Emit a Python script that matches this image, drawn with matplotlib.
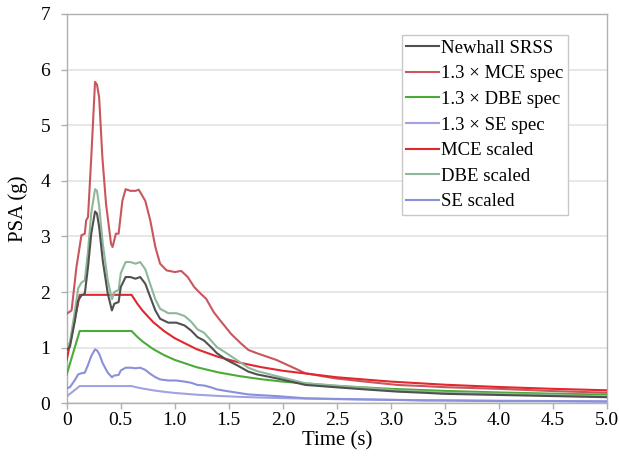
import matplotlib
matplotlib.use("Agg")
import matplotlib.pyplot as plt

# ---- data ----
t_rec = [0, 0.03, 0.076, 0.106, 0.136, 0.167, 0.197, 0.227, 0.262, 0.28, 0.30, 0.333,
         0.38, 0.418, 0.44, 0.48, 0.50, 0.545, 0.59, 0.636, 0.68, 0.727, 0.773, 0.82,
         0.864, 0.94, 1.015, 1.09, 1.15, 1.21, 1.27, 1.33, 1.39, 1.48, 1.58, 1.68,
         1.76, 1.94, 2.21, 2.48, 2.76, 3.06, 3.3, 3.5, 4.0, 4.5, 5.0]
newhall = [0.96, 1.02, 1.49, 1.85, 1.94, 1.97, 2.45, 3.05, 3.45, 3.41, 3.17, 2.57,
           1.97, 1.67, 1.79, 1.82, 2.09, 2.27, 2.27, 2.24, 2.27, 2.15, 1.91, 1.67,
           1.52, 1.45, 1.45, 1.40, 1.31, 1.19, 1.13, 1.02, 0.90, 0.78, 0.68, 0.57,
           0.52, 0.45, 0.33, 0.29, 0.25, 0.21, 0.19, 0.17, 0.15, 0.13, 0.11]
dbe_scaled = [1.01, 1.10, 1.67, 2.07, 2.17, 2.21, 2.74, 3.42, 3.85, 3.82, 3.55, 2.88,
              2.21, 1.87, 2.00, 2.04, 2.34, 2.54, 2.54, 2.51, 2.54, 2.41, 2.14, 1.87,
              1.70, 1.62, 1.62, 1.57, 1.47, 1.33, 1.27, 1.14, 1.01, 0.90, 0.77, 0.64,
              0.58, 0.49, 0.36, 0.32, 0.28, 0.23, 0.21, 0.19, 0.17, 0.15, 0.12]
se_scaled = [0.27, 0.29, 0.42, 0.52, 0.54, 0.55, 0.69, 0.85, 0.97, 0.95, 0.89, 0.72,
             0.55, 0.47, 0.50, 0.51, 0.59, 0.64, 0.64, 0.63, 0.64, 0.60, 0.53, 0.47,
             0.43, 0.41, 0.41, 0.39, 0.37, 0.33, 0.32, 0.29, 0.25, 0.22, 0.19, 0.16,
             0.15, 0.13, 0.09, 0.08, 0.07, 0.06, 0.05, 0.05, 0.04, 0.04, 0.03]

t_mce = [0, 0.045, 0.09, 0.136, 0.167, 0.18, 0.197, 0.227, 0.262, 0.28, 0.30, 0.33,
         0.364, 0.41, 0.424, 0.455, 0.48, 0.515, 0.545, 0.59, 0.636, 0.667, 0.727,
         0.773, 0.82, 0.864, 0.924, 1.0, 1.06, 1.12, 1.18, 1.24, 1.29, 1.36, 1.42,
         1.52, 1.61, 1.68, 1.76, 1.94, 2.21, 2.48, 2.76, 3.06, 3.3, 3.5, 4.0, 4.5, 5.0]
mce_scaled = [1.61, 1.67, 2.45, 3.02, 3.05, 3.29, 3.35, 4.42, 5.78, 5.73, 5.5, 4.42,
              3.58, 2.87, 2.81, 3.05, 3.05, 3.64, 3.85, 3.82, 3.82, 3.84, 3.64,
              3.29, 2.81, 2.51, 2.39, 2.36, 2.38, 2.27, 2.09, 1.97, 1.88, 1.64, 1.49,
              1.25, 1.08, 0.96, 0.90, 0.78, 0.54, 0.45, 0.39, 0.33, 0.31, 0.29, 0.26, 0.22, 0.19]

t_spec = [0, 0.12, 0.6, 0.65, 0.7, 0.8, 0.9, 1.0, 1.2, 1.4, 1.6, 1.8, 2.0, 2.5, 3.0,
          3.5, 4.0, 4.5, 5.0]
mce_spec = [0.78, 1.95, 1.95, 1.80, 1.67, 1.46, 1.30, 1.17, 0.975, 0.836, 0.731, 0.65,
            0.585, 0.468, 0.39, 0.334, 0.293, 0.26, 0.234]
dbe_spec = [0.52, 1.30, 1.30, 1.20, 1.114, 0.975, 0.867, 0.78, 0.65, 0.557, 0.488, 0.433,
            0.39, 0.312, 0.26, 0.223, 0.195, 0.173, 0.156]
se_spec = [0.124, 0.31, 0.31, 0.286, 0.266, 0.233, 0.207, 0.186, 0.155, 0.133, 0.116,
           0.103, 0.093, 0.074, 0.062, 0.053, 0.047, 0.041, 0.037]

x_ticks = [0, 0.5, 1.0, 1.5, 2.0, 2.5, 3.0, 3.5, 4.0, 4.5, 5.0]
x_ticklabels = ["0", "0.5", "1.0", "1.5", "2.0", "2.5", "3.0", "3.5", "4.0", "4.5", "5.0"]
y_ticks = [0, 1, 2, 3, 4, 5, 6, 7]

plt.rcParams['font.family'] = ['Liberation Serif', 'DejaVu Serif']

fig = plt.figure(figsize=(6.19, 4.57), dpi=100)
ax = fig.add_axes([0.1078, 0.1175, 0.8729, 0.8519])

lw = 1.5
ax.plot(t_rec, newhall, color='#505050', lw=lw, label='Newhall SRSS', zorder=5)
ax.plot(t_mce, mce_scaled, color='#c9565e', lw=lw, label='1.3 \u00d7 MCE spec', zorder=3)
ax.plot(t_spec, dbe_spec, color='#4caa38', lw=lw, label='1.3 \u00d7 DBE spec', zorder=3)
ax.plot(t_spec, se_spec, color='#a2a2e2', lw=lw, label='1.3 \u00d7 SE spec', zorder=3)
ax.plot(t_spec, mce_spec, color='#e0282e', lw=lw, label='MCE scaled', zorder=3)
ax.plot(t_rec, dbe_scaled, color='#8fb89a', lw=lw, label='DBE scaled', zorder=4)
ax.plot(t_rec, se_scaled, color='#8a90da', lw=lw, label='SE scaled', zorder=3)

ax.set_xlim(0, 5.0)
ax.set_ylim(0, 7)
ax.set_xticks(x_ticks)
ax.set_xticklabels(x_ticklabels)
ax.set_yticks(y_ticks)
ax.yaxis.grid(True, color='#e3e3e3', lw=1.2)
ax.set_axisbelow(True)
for s in ax.spines.values():
    s.set_color('#b0b0b0')
    s.set_linewidth(1.0)
ax.tick_params(axis='both', colors='#b0b0b0', labelcolor='black', labelsize=14,
               length=4, width=1)
ax.tick_params(axis='x', pad=2)
ax.tick_params(axis='y', pad=8)

ax.set_xlabel('Time (s)', fontsize=15, labelpad=2)
ax.set_ylabel('PSA (g)', fontsize=15)
ax.yaxis.set_label_coords(-0.071, 0.5)

leg = ax.legend(loc='upper right', bbox_to_anchor=(0.928, 0.946), fontsize=13.5,
                frameon=True, fancybox=False, edgecolor='#c8c8c8', framealpha=1,
                handlelength=1.75, handletextpad=0.1, labelspacing=0.45,
                borderpad=0.25, borderaxespad=0)
leg.get_frame().set_linewidth(1.0)

fig.savefig('out.png', dpi=100)
